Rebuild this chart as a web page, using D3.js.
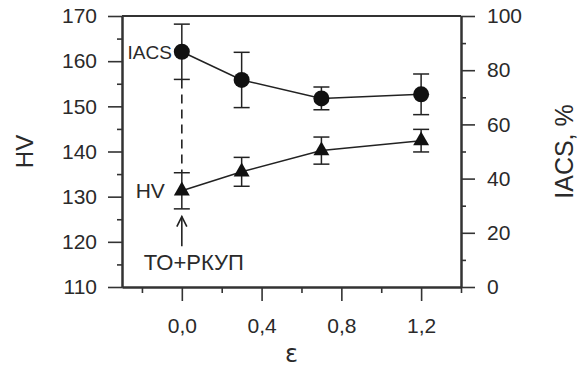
<!DOCTYPE html>
<html>
<head>
<meta charset="utf-8">
<script src="https://cdn.jsdelivr.net/npm/d3@7"></script>
<style>
  html, body { margin: 0; padding: 0; background: #fff; }
  svg { display: block; }
  text { font-family: "Liberation Sans", Arial, sans-serif; fill: #2a2a2a; }
</style>
</head>
<body>
<svg id="chart" width="582" height="367"></svg>
<script>
// ---- data ----
const strain = [0.0, 0.3, 0.7, 1.2];
const iacs = [86.8, 76.4, 69.6, 71.1];
const iacsErr = [10.2, 10.2, 4.2, 7.5];
const hv = [131.3, 135.5, 140.2, 142.4];
const hvErr = [4.0, 3.2, 3.0, 2.5];
const xMajorTicks = [0.0, 0.4, 0.8, 1.2];
const xMinorTicks = [-0.2, 0.2, 0.6, 1.0, 1.4];
const hvMajorTicks = [110, 120, 130, 140, 150, 160, 170];
const hvMinorTicks = [115, 125, 135, 145, 155, 165];
const iacsMajorTicks = [0, 20, 40, 60, 80, 100];
const iacsMinorTicks = [10, 30, 50, 70, 90];
const arrowHV = [119, 125.6]; // tail, tip (HV units) of the annotation arrow
const stateLabel = "ТО+РКУП";

// ---- layout ----
const svg = d3.select("#chart");
const L = 122, R = 461, T = 16, B = 287;
const x = d3.scaleLinear().domain([-0.3, 1.4]).range([L, R]);
const yL = d3.scaleLinear().domain([110, 170]).range([B, T]);
const yR = d3.scaleLinear().domain([0, 100]).range([B, T]);
const ink = "#222";
const fmt = d => d.toFixed(1).replace(".", ",");

function styleAxis(g) {
  g.selectAll("path.domain").attr("stroke", "#333").attr("stroke-width", 2);
  g.selectAll(".tick line").attr("stroke", "#333").attr("stroke-width", 1.6);
  g.selectAll(".tick text").style("font-size", "21px").attr("fill", "#2a2a2a")
    .style("font-family", "'Liberation Sans', Arial, sans-serif");
}

// bottom axis
const gx = svg.append("g").attr("transform", `translate(0,${B})`)
  .call(d3.axisBottom(x).tickValues(xMajorTicks).tickSize(14).tickSizeOuter(0).tickPadding(17).tickFormat(fmt));
styleAxis(gx);
const gxm = svg.append("g").attr("transform", `translate(0,${B})`)
  .call(d3.axisBottom(x).tickValues(xMinorTicks).tickSize(6).tickSizeOuter(0).tickFormat(""));
styleAxis(gxm);

// top frame line
svg.append("line").attr("x1", L).attr("x2", R).attr("y1", T).attr("y2", T)
  .attr("stroke", "#333").attr("stroke-width", 2);

// left axis
const gl = svg.append("g").attr("transform", `translate(${L},0)`)
  .call(d3.axisLeft(yL).tickValues(hvMajorTicks).tickSize(14).tickSizeOuter(0).tickPadding(11));
styleAxis(gl);
const glm = svg.append("g").attr("transform", `translate(${L},0)`)
  .call(d3.axisLeft(yL).tickValues(hvMinorTicks).tickSize(5).tickSizeOuter(0).tickFormat(""));
styleAxis(glm);

// right axis
const gr = svg.append("g").attr("transform", `translate(${R},0)`)
  .call(d3.axisRight(yR).tickValues(iacsMajorTicks).tickSize(14).tickSizeOuter(0).tickPadding(12));
styleAxis(gr);
const grm = svg.append("g").attr("transform", `translate(${R},0)`)
  .call(d3.axisRight(yR).tickValues(iacsMinorTicks).tickSize(5).tickSizeOuter(0).tickFormat(""));
styleAxis(grm);

// axis titles
svg.append("text").attr("transform", `translate(33,${(T + B) / 2}) rotate(-90)`)
  .attr("text-anchor", "middle").style("font-size", "24px").text("HV");
svg.append("text").attr("transform", `translate(573,${(T + B) / 2}) rotate(-90)`)
  .attr("text-anchor", "middle").style("font-size", "25px").text("IACS, %");
svg.append("text").attr("x", (L + R) / 2).attr("y", 362)
  .attr("text-anchor", "middle").style("font-size", "24px")
  .style("font-family", "'DejaVu Sans', sans-serif").text("ε");

// dashed guide at initial state
svg.append("line").attr("x1", x(strain[0])).attr("x2", x(strain[0]))
  .attr("y1", yR(iacs[0] - iacsErr[0])).attr("y2", yL(hv[0] + hvErr[0]))
  .attr("stroke", ink).attr("stroke-width", 1.6).attr("stroke-dasharray", "9,6");

// arrow
const ax = x(strain[0]);
svg.append("line").attr("x1", ax).attr("x2", ax)
  .attr("y1", yL(arrowHV[0])).attr("y2", yL(arrowHV[1]))
  .attr("stroke", ink).attr("stroke-width", 1.6);
svg.append("path")
  .attr("d", `M${ax - 5},${yL(arrowHV[1]) + 10} L${ax},${yL(arrowHV[1])} L${ax + 5},${yL(arrowHV[1]) + 10}`)
  .attr("fill", "none").attr("stroke", ink).attr("stroke-width", 1.6);

// series
function drawSeries(vals, errs, y, marker) {
  const pts = strain.map((s, i) => ({ s, v: vals[i], e: errs[i] }));
  svg.append("path").datum(pts)
    .attr("d", d3.line().x(d => x(d.s)).y(d => y(d.v)))
    .attr("fill", "none").attr("stroke", ink).attr("stroke-width", 1.5);
  const g = svg.append("g").selectAll("g").data(pts).join("g");
  g.append("line").attr("x1", d => x(d.s)).attr("x2", d => x(d.s))
    .attr("y1", d => y(d.v - d.e)).attr("y2", d => y(d.v + d.e))
    .attr("stroke", ink).attr("stroke-width", 1.5);
  [-1, 1].forEach(sg => {
    g.append("line").attr("x1", d => x(d.s) - 8).attr("x2", d => x(d.s) + 8)
      .attr("y1", d => y(d.v + sg * d.e)).attr("y2", d => y(d.v + sg * d.e))
      .attr("stroke", ink).attr("stroke-width", 1.5);
  });
  if (marker === "circle") {
    g.append("circle").attr("cx", d => x(d.s)).attr("cy", d => y(d.v)).attr("r", 8).attr("fill", "#111");
  } else {
    g.append("path").attr("d", d3.symbol(d3.symbolTriangle, 110)())
      .attr("transform", d => `translate(${x(d.s)},${y(d.v)})`).attr("fill", "#111");
  }
}
drawSeries(iacs, iacsErr, yR, "circle");
drawSeries(hv, hvErr, yL, "triangle");

// in-plot labels
svg.append("text").attr("x", x(strain[0]) - 10).attr("y", yR(iacs[0]) + 7)
  .attr("text-anchor", "end").style("font-size", "19px").text("IACS");
svg.append("text").attr("x", x(strain[0]) - 17).attr("y", yL(hv[0]) + 7)
  .attr("text-anchor", "end").style("font-size", "21px").text("HV");
svg.append("text").attr("x", x(strain[0]) + 12).attr("y", 270)
  .attr("text-anchor", "middle").style("font-size", "22px").text(stateLabel);
</script>
</body>
</html>
